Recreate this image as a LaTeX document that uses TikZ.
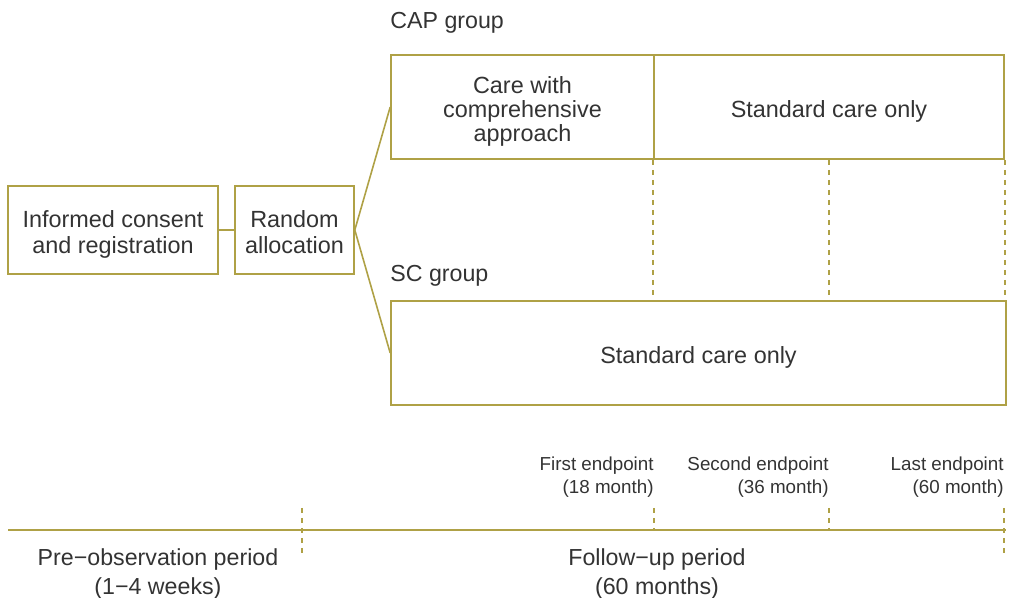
\documentclass[tikz,border=0pt]{standalone}
\usepackage{fontspec}
\setmainfont{Liberation Sans}
\usetikzlibrary{positioning}
\definecolor{boxline}{HTML}{AFA146}
\definecolor{labeltext}{gray}{0.2}

\begin{document}
\begin{tikzpicture}[x=0.5pt, y=-0.5pt,
    box/.style={shape=rectangle, draw=boxline, line width=0.8pt, inner sep=0pt},
    boxtext/.style={yshift=-2.2pt, inner sep=0pt, text=labeltext, align=center, font=\fontsize{11.7}{13}\selectfont},
    grouplabel/.style={anchor=west, inner sep=0pt, text=labeltext, font=\fontsize{11.6}{13}\selectfont},
    endlabel/.style={anchor=north east, align=right, inner sep=0pt, text=labeltext, font=\fontsize{9.4}{11.5}\selectfont},
    periodlabel/.style={align=center, inner sep=0pt, text=labeltext, font=\fontsize{11.6}{14.5}\selectfont},
    link/.style={draw=boxline, line width=0.8pt},
    dashline/.style={draw=boxline, line width=0.8pt, dash pattern=on 2.5pt off 2.5pt}
]
\useasboundingbox (0,0) rectangle (1013,598);

% Boxes
\node[box, minimum width=105pt, minimum height=44pt,
      label={[boxtext]center:{Informed consent\\and registration}}] (consent) at (113,230) {};
\node[box, minimum width=59.5pt, minimum height=44pt,
      label={[boxtext, yshift=0.9pt]center:{Random\\allocation}}] (random) at (294.5,230) {};

\node[box, minimum width=131.5pt, minimum height=52pt,
      label={[boxtext, font=\fontsize{11.7}{12}\selectfont]center:{Care with\\comprehensive\\approach}}] (capcare) at (522.5,107) {};
\node[box, minimum width=175pt, minimum height=52pt,
      label={[boxtext]center:Standard care only}] (capstd) at (829,107) {};
\node[box, minimum width=307.5pt, minimum height=52pt,
      label={[boxtext]center:Standard care only}] (sc) at (698.5,353) {};

% Group labels
\node[grouplabel] (caplabel) at (390,23) {CAP group};
\node[grouplabel] (sclabel) at (390,276) {SC group};

% Connectors
\draw[link] (consent) -- (random);
\draw[link] (random.east) -- (capcare.west);
\draw[link] (random.east) -- (sc.west);

\draw[dashline] (capstd.south west) -- (capstd.south west |- sc.north);
\draw[dashline] (capstd.south) -- (capstd.south |- sc.north);
\draw[dashline] (capstd.south east) -- (capstd.south east |- sc.north);

% Timeline
\coordinate (tlstart) at (8,530);
\coordinate (tlend) at (1006,530);
\coordinate (preend) at (302,530);
\coordinate (firstend) at (654,530);
\coordinate (secondend) at (829,530);
\coordinate (lastend) at (1004,530);
\draw[link] (tlstart) -- (tlend);

\draw[dashline] ([shift={(0,-22)}]preend) -- ([shift={(0,23)}]preend);
\draw[dashline] ([shift={(0,-22)}]firstend) -- (firstend);
\draw[dashline] ([shift={(0,-22)}]secondend) -- (secondend);
\draw[dashline] ([shift={(0,-22)}]lastend) -- ([shift={(0,23)}]lastend);

% Endpoint labels
\node[endlabel] (first) at (654,456) {First endpoint\\(18 month)};
\node[endlabel] (second) at (829,456) {Second endpoint\\(36 month)};
\node[endlabel] (last) at (1004,456) {Last endpoint\\(60 month)};

% Periods
\node[periodlabel] (preperiod) at (158,574) {Pre−observation period\\(1−4 weeks)};
\node[periodlabel] (followup) at (657,574) {Follow−up period\\(60 months)};

\end{tikzpicture}
\end{document}
